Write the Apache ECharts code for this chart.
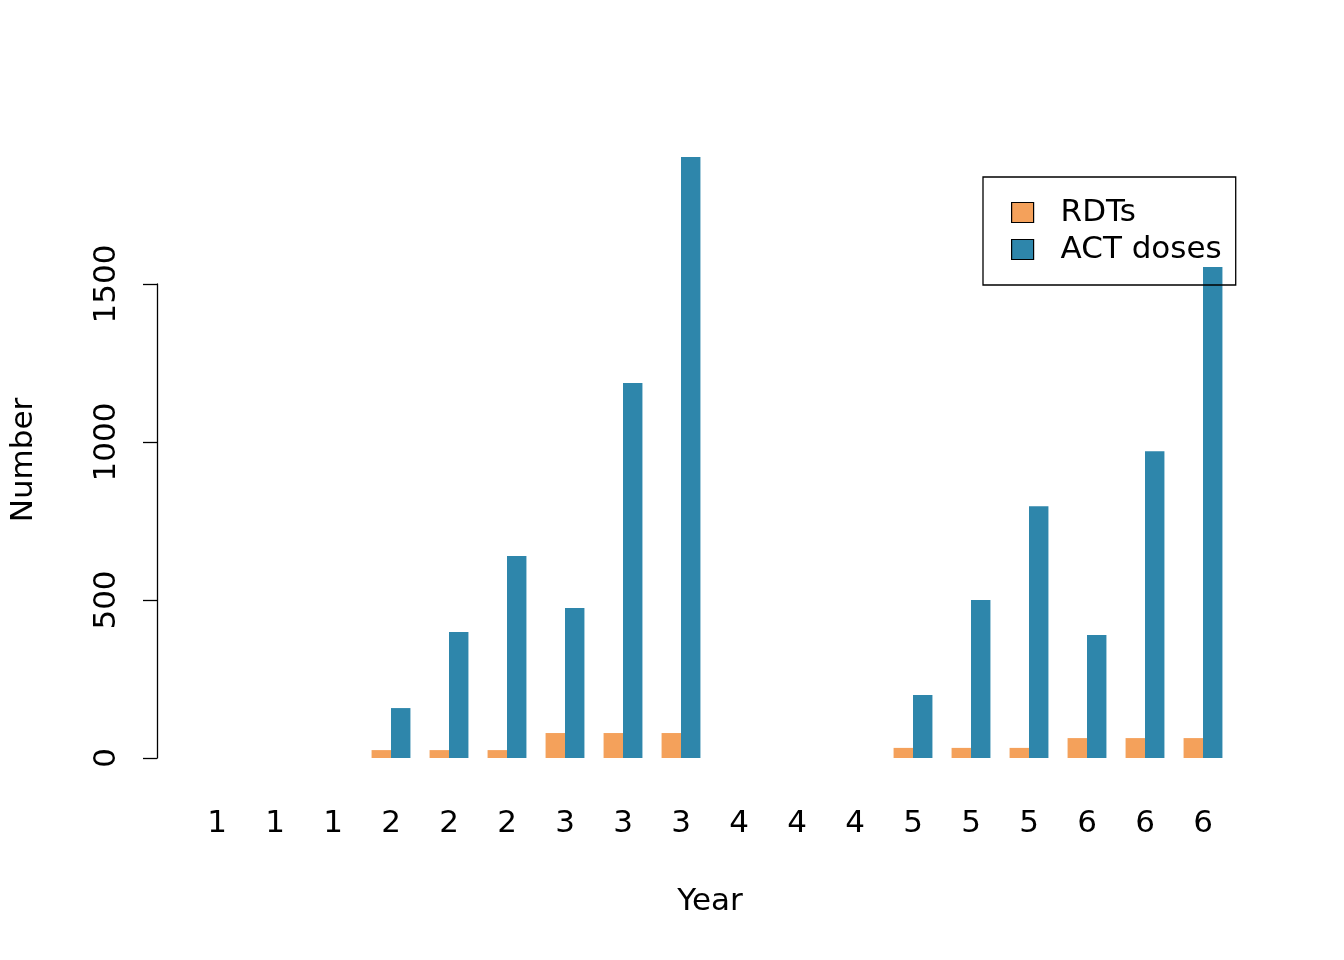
<!DOCTYPE html>
<html><head><meta charset="utf-8">
<script src="https://cdn.jsdelivr.net/npm/echarts@6/dist/echarts.min.js"></script>
<style>html,body{margin:0;background:#fff}#c{width:1344px;height:960px}</style>
</head><body><div id="c"></div>
<script>
const categories = ['1','1','1','2','2','2','3','3','3','4','4','4','5','5','5','6','6','6'];
const rdts = [0,0,0,25,25,25,79,79,79,0,0,0,32,32,32,63,63,63];
const actDoses = [0,0,0,158,399,639,475,1187,1902,0,0,0,199,500,797,389,971,1554];
const yTicks = [0,500,1000,1500];
const font = 'DejaVu Sans';
const fs = 31;
const chart = echarts.init(document.getElementById('c'));
chart.setOption({
  animation:false,
  textStyle:{fontFamily:font},
  grid:[{left:188,right:112,top:126,bottom:202},{left:188,right:112,top:284,bottom:202},{left:188,right:112,top:162,bottom:202}],
  legend:{left:983,top:177,orient:'vertical',borderColor:'#000',borderWidth:1.3,borderRadius:0,
    padding:[20,14,20,28],itemGap:6,itemWidth:22,itemHeight:20,icon:'rect',
    textStyle:{fontSize:fs,fontFamily:font,color:'#000',padding:[0,0,0,22]},
    data:[{name:'RDTs',itemStyle:{borderColor:'#000',borderWidth:1.2}},{name:'ACT doses',itemStyle:{borderColor:'#000',borderWidth:1.2}}]},
  xAxis:[{type:'category',data:categories,gridIndex:0,axisLine:{show:false},axisTick:{show:false},
    axisLabel:{fontSize:fs,color:'#000',margin:50,fontFamily:font},
    name:'Year',nameLocation:'middle',nameGap:128,nameTextStyle:{fontSize:fs,color:'#000',fontFamily:font}},
    {type:'category',data:categories,gridIndex:1,show:false},
    {type:'category',data:categories,gridIndex:2,show:false}],
  yAxis:[{type:'value',gridIndex:0,min:0,max:2000,show:false},
    {type:'value',gridIndex:1,min:0,max:1500,interval:500,offset:31,
      axisLine:{show:true,lineStyle:{color:'#000',width:1.3}},axisTick:{show:true,length:14,lineStyle:{color:'#000',width:1.3}},
      splitLine:{show:false},
      axisLabel:{rotate:90,fontSize:fs,color:'#000',margin:50,fontFamily:font,verticalAlign:'middle',align:'center',
        formatter:v=>yTicks.includes(v)?String(v):''}},
    {type:'value',gridIndex:2,min:0,max:1,axisLine:{show:false},axisTick:{show:false},axisLabel:{show:false},splitLine:{show:false},
      name:'Number',nameLocation:'middle',nameGap:164,nameRotate:90,nameTextStyle:{fontSize:fs,color:'#000',fontFamily:font}}],
  series:[
    {name:'RDTs',type:'bar',data:rdts,xAxisIndex:0,yAxisIndex:0,barGap:'0%',barCategoryGap:'33%',itemStyle:{color:'#F4A15B'}},
    {name:'ACT doses',type:'bar',data:actDoses,xAxisIndex:0,yAxisIndex:0,barGap:'0%',barCategoryGap:'33%',itemStyle:{color:'#2E86AB'}}
  ]
});
</script></body></html>
